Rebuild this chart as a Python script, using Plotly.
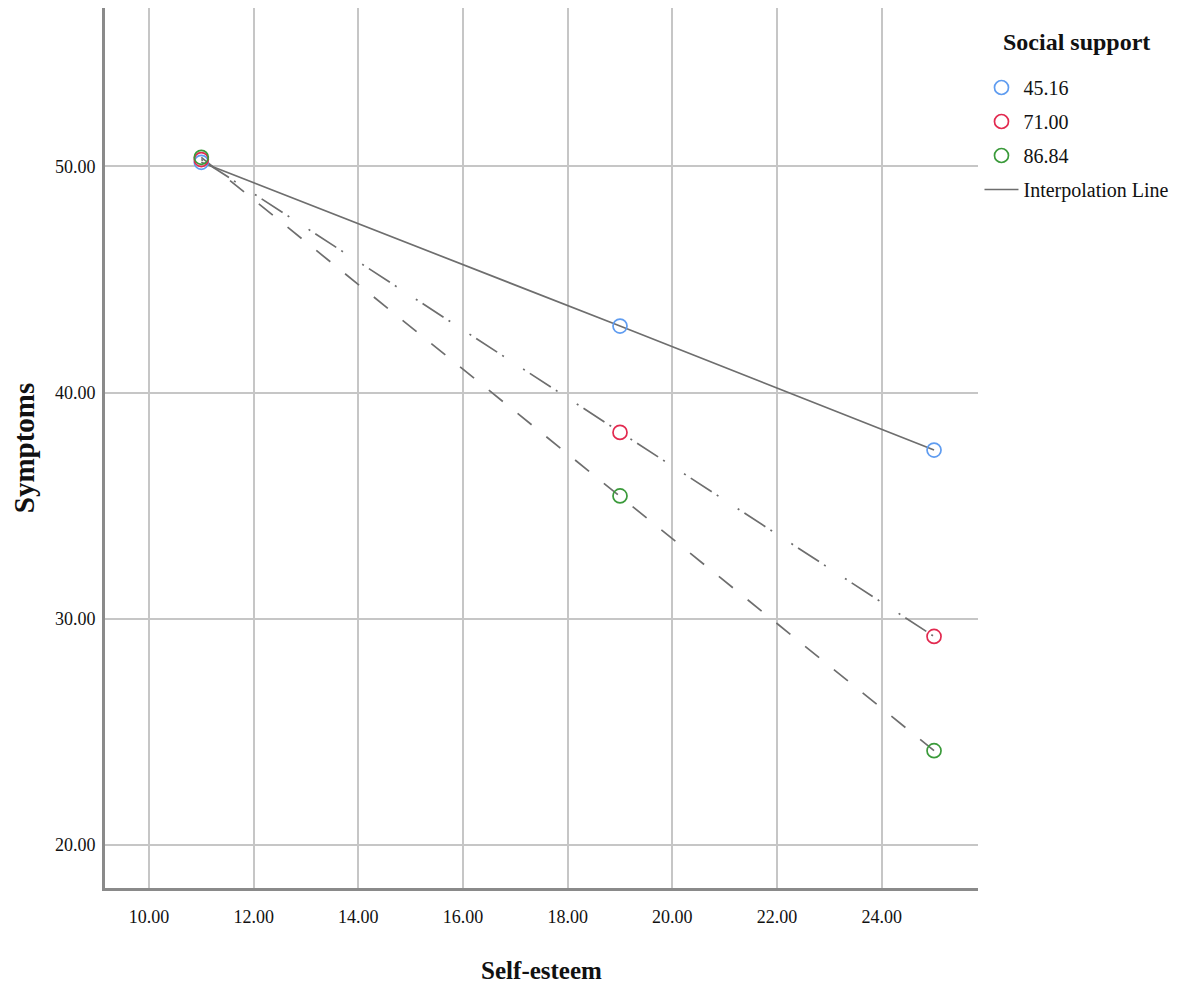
import plotly.graph_objects as go

self_esteem = [11, 19, 25]
groups = ["45.16", "71.00", "86.84"]
symptoms = {
    "45.16": [50.18, 42.94, 37.46],
    "71.00": [50.30, 38.24, 29.22],
    "86.84": [50.40, 35.43, 24.17],
}
colors = {"45.16": "#5f9cf0", "71.00": "#e2294f", "86.84": "#3a9a3a"}
dashes = {"45.16": "solid", "71.00": "2px,6px,25px,6px,2px,23px", "86.84": "18px,19px"}
x_ticks = [10, 12, 14, 16, 18, 20, 22, 24]
y_ticks = [20, 30, 40, 50]
legend_title = "Social support"

FONT = "Liberation Serif"
LINE = "#6e6e6e"
fig = go.Figure()

# interpolation lines (drawn first, under markers)
for g in groups:
    fig.add_trace(go.Scatter(
        x=self_esteem, y=symptoms[g], mode="lines",
        line=dict(color=LINE, width=1.7, dash=dashes[g]),
        showlegend=False, hoverinfo="skip"))

for g in groups:
    fig.add_trace(go.Scatter(
        x=self_esteem, y=symptoms[g], mode="markers", name=g, legendgroup=g,
        marker=dict(symbol="circle-open", size=14, color=colors[g],
                    line=dict(width=1.7, color=colors[g]))))

# legend entry for the interpolation line
fig.add_trace(go.Scatter(
    x=[None], y=[None], mode="lines", name="Interpolation Line", legendgroup="interp",
    line=dict(color=LINE, width=1.7)))

fig.add_annotation(
    text=f"<b>{legend_title}</b>", xref="paper", yref="paper",
    x=1.1123, y=0.9614, xanchor="center", yanchor="middle", showarrow=False,
    font=dict(family=FONT, size=24, color="#111"))

fig.update_layout(
    width=1173, height=982,
    margin=dict(l=97, r=203, t=0, b=102),
    plot_bgcolor="white", paper_bgcolor="white",
    font=dict(family=FONT, size=17, color="#111"),
    legend=dict(
        x=1.0017, xanchor="left", y=0.9318, yanchor="top",
        font=dict(family=FONT, size=20, color="#111"),
        bgcolor="rgba(0,0,0,0)", itemwidth=34, tracegroupgap=5,
    ),
    xaxis=dict(
        range=[9.16, 25.84], tickvals=x_ticks, tickformat=".2f",
        showgrid=True, gridcolor="#c6c6c6", gridwidth=2,
        showline=True, linecolor="#8a8a8a", linewidth=3,
        zeroline=False, ticks="", ticklabelstandoff=10, automargin=False,
        title=dict(text="<b>Self-esteem</b>", font=dict(family=FONT, size=25, color="#111"), standoff=36),
        tickfont=dict(family=FONT, size=18, color="#111"),
    ),
    yaxis=dict(
        range=[18.1, 57.0], tickvals=y_ticks, tickformat=".2f",
        showgrid=True, gridcolor="#c6c6c6", gridwidth=2,
        showline=True, linecolor="#8a8a8a", linewidth=3,
        zeroline=False, ticks="", ticklabelstandoff=3, automargin=False,
        title=dict(text="<b>Symptoms</b>", font=dict(family=FONT, size=29, color="#111"), standoff=24),
        tickfont=dict(family=FONT, size=18, color="#111"),
    ),
)

fig.write_html("out.html")
